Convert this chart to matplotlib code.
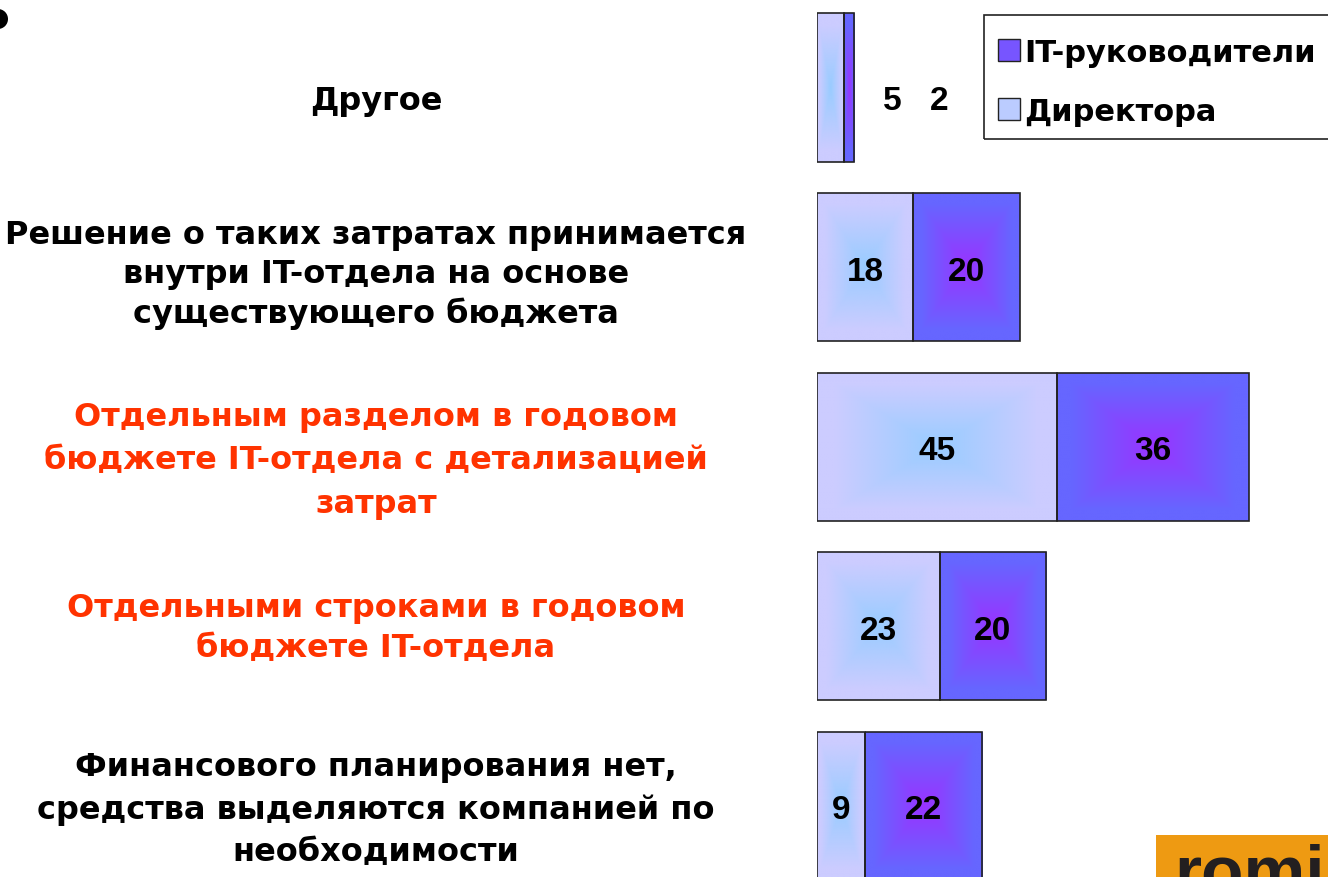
import numpy as np
import matplotlib
matplotlib.use("Agg")
import matplotlib.pyplot as plt
import matplotlib.transforms as mtransforms
from matplotlib.patches import Patch, Rectangle, Ellipse
from matplotlib.colors import to_rgb

plt.rcParams['font.family'] = ['DejaVu Sans']
plt.rcParams['font.weight'] = 'bold'

# data
categories = [
    "Другое",
    "Решение о таких затратах принимается\nвнутри IT-отдела на основе\nсуществующего бюджета",
    "Отдельным разделом в годовом\nбюджете IT-отдела с детализацией\nзатрат",
    "Отдельными строками в годовом\nбюджете IT-отдела",
    "Финансового планирования нет,\nсредства выделяются компанией по\nнеобходимости",
]
label_colors = ["black", "black", "#FF3300", "#FF3300", "black"]
directors = [5, 18, 45, 23, 9]
it_heads = [2, 20, 36, 20, 22]
series_names = ["IT-руководители", "Директора"]

# gradient colours (outer, centre)
dir_outer, dir_center = "#CCCCFF", "#99CCFF"
it_outer, it_center = "#6666FF", "#9933FF"

# per-label layout tweaks (pixel offset of text centre, line spacing)
label_dy = [13, 7, 13, 1, 3]
label_ls = [1.2, 1.3, 1.52, 1.37, 1.45]

W, H = 1328, 878
fig = plt.figure(figsize=(W / 100, H / 100), dpi=100)
ax = fig.add_axes([817 / W, 0, 1 - 817 / W, 1])
ax.axis("off")


def gradient_fill(patch, outer, center):
    x0, y0 = patch.get_x(), patch.get_y()
    w, h = patch.get_width(), patch.get_height()
    u = np.linspace(-1, 1, 200)
    uu, vv = np.meshgrid(u, u)
    t = np.clip(np.maximum(np.abs(uu), np.abs(vv)) / 0.85, 0, 1)[..., None]
    img = np.array(to_rgb(center)) * (1 - t) + np.array(to_rgb(outer)) * t
    im = ax.imshow(img, extent=(x0, x0 + w, y0 + h, y0), aspect="auto",
                   interpolation="bilinear", zorder=1)
    im.set_clip_path(patch)


ypos = np.arange(len(categories))
bh = 0.825
b1 = ax.barh(ypos, directors, height=bh, color="none", edgecolor="#222222", linewidth=1.2, zorder=2)
b2 = ax.barh(ypos, it_heads, left=directors, height=bh, color="none", edgecolor="#222222",
             linewidth=1.2, zorder=2)
for p in b1.patches:
    gradient_fill(p, dir_outer, dir_center)
for p in b2.patches:
    gradient_fill(p, it_outer, it_center)

ax.set_xlim(0, (W - 817) / 5.333)
ax.set_ylim((H - 88.5) / 179.6, -88.5 / 179.6)

# value labels
num_font = {"family": "Liberation Sans", "size": 24, "weight": "bold"}
for i, (d, it) in enumerate(zip(directors, it_heads)):
    if d + it < 10:
        # too narrow: put the numbers to the right of the bar
        xd, xi = d + it + 7.2, d + it + 16.0
        dy = 13
    else:
        xd, xi = d / 2, d + it / 2
        dy = 4
    tr = mtransforms.offset_copy(ax.transData, fig=fig, y=-dy, units="dots")
    ax.text(xd, i, str(d), ha="center", va="center", fontdict=num_font, zorder=3, transform=tr)
    ax.text(xi, i, str(it), ha="center", va="center", fontdict=num_font, zorder=3, transform=tr)

# category labels on the left
trans = mtransforms.blended_transform_factory(fig.transFigure, ax.transData)
for i, lab in enumerate(categories):
    off = mtransforms.offset_copy(trans, fig=fig, y=-label_dy[i], units="dots")
    fig.text(376 / W, i, lab, transform=off, ha="center", va="center", multialignment="center",
             fontsize=23, fontweight="bold", color=label_colors[i], linespacing=label_ls[i])

# legend (frame drawn separately, it runs off the right edge)
handles = [Patch(facecolor="#7755FF", edgecolor="#222222"),
           Patch(facecolor="#BBCCFF", edgecolor="#222222")]
leg = fig.legend(handles, series_names, loc="upper left", bbox_to_anchor=(998 / W, 1 - 39 / H),
                 borderaxespad=0, borderpad=0, frameon=False,
                 handlelength=0.72, handleheight=0.72, handletextpad=0.15, labelspacing=0.98,
                 prop={"weight": "bold", "size": 22})
fig.patches.append(Rectangle((984 / W, 1 - 140 / H), (W - 980) / W, 124 / H,
                             transform=fig.transFigure, facecolor="none",
                             edgecolor="#222222", linewidth=1.2))

# logo in the corner
fig.patches.append(Rectangle((1156 / W, 0), (W - 1156) / W, 42 / H, transform=fig.transFigure,
                             facecolor="#EE9A12", edgecolor="none", zorder=5))
fig.text(1174 / W, -16 / H, "romi", fontsize=50, fontweight="bold", color="#231F20",
         family="Liberation Sans", ha="left", va="baseline", zorder=6)

# bullet dot
fig.patches.append(Ellipse((-2 / W, 1 - 20 / H), 20 / W, 20 / H, transform=fig.transFigure,
                           facecolor="black", edgecolor="none"))

fig.savefig("out.png", dpi=100)
